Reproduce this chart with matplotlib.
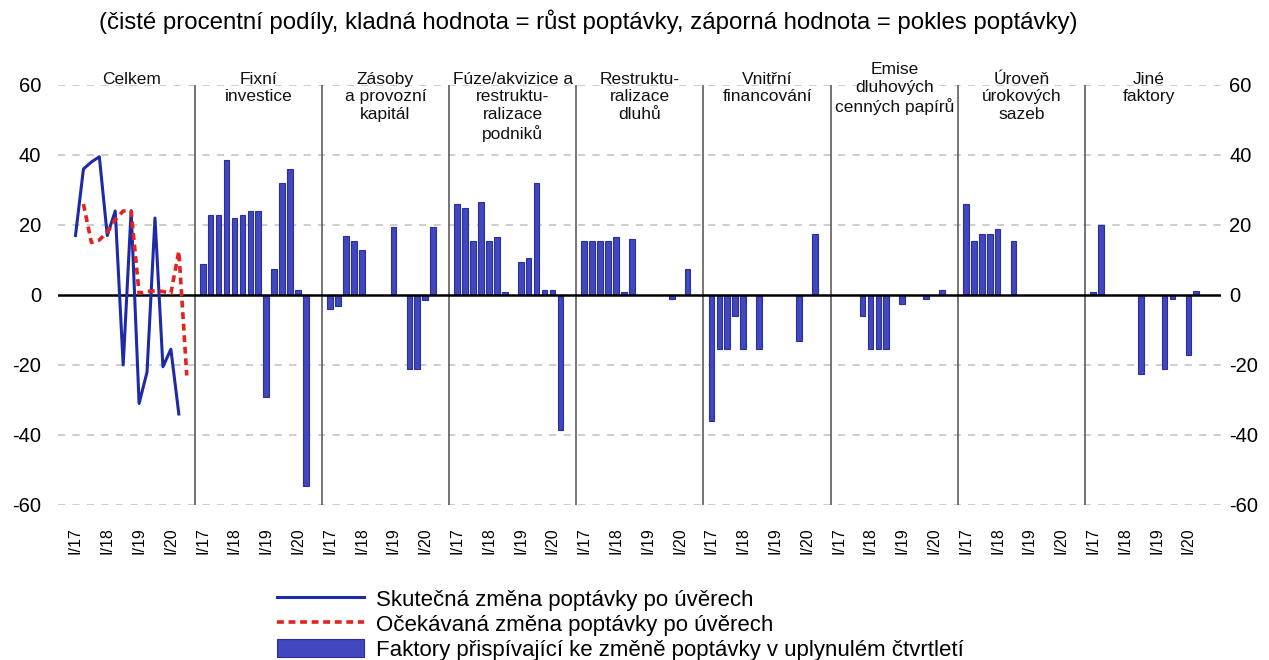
import numpy as np
import matplotlib
matplotlib.use("Agg")
import matplotlib.pyplot as plt
from matplotlib.lines import Line2D
from matplotlib.patches import Patch

plt.rcParams['font.family'] = ['Liberation Sans', 'DejaVu Sans']
plt.rcParams['axes.unicode_minus'] = False

# --- DATA ---
panel_titles = [
    "Celkem",
    "Fixní\ninvestice",
    "Zásoby\na provozní\nkapitál",
    "Fúze/akvizice a\nrestruktu-\nralizace\npodniků",
    "Restruktu-\nralizace\ndluhů",
    "Vnitřní\nfinancování",
    "Emise\ndluhových\ncenných papírů",
    "Úroveň\núrokových\nsazeb",
    "Jiné\nfaktory",
]
tick_labels = ["I/17", "I/18", "I/19", "I/20"]

# Celkem: actual (I/17 - II/20), expected (II/17 - III/20)
actual = [17, 36, 38, 39.5, 17, 24, -20, 24, -31, -22, 22, -20.5, -15.5, -34]
expected = [26, 15, 15.7, 18, 21.5, 24, 24, 0.5, 1, 1.2, 1, 0.5, 12.5, -23]

fixni = [9, 23, 23, 38.5, 22, 23, 24, 24, -29, 7.5, 32, 36, 1.5, -54.5]
zasoby = [-4, -3, 17, 15.5, 13, 0, 0, 0, 19.5, 0, -21, -21, -1.5, 19.5]
fuze = [26, 25, 15.5, 26.5, 15.5, 16.5, 0.8, 0, 9.5, 10.5, 32, 1.5, 1.5, -38.5]
dluhy = [15.5, 15.5, 15.5, 15.5, 16.5, 1, 16, 0, 0, 0, 0, -1, 0, 7.5]
vnitrni = [-36, -15.5, -15.5, -6, -15.5, 0, -15.5, 0, 0, 0, 0, -13, 0, 17.5]
emise = [0, 0, 0, -6, -15.5, -15.5, -15.5, 0, -2.5, 0, 0, -1, 0, 1.5]
uroven = [26, 15.5, 17.5, 17.5, 19, 0, 15.5, 0, 0, 0, 0, 0, 0, 0]
jine = [1, 20, 0, 0, 0, 0, -22.5, 0, 0, -21, -1, 0, -17, 1.2]

factors = [fixni, zasoby, fuze, dluhy, vnitrni, emise, uroven, jine]

SLOTS = 16  # slots per panel (14 quarters + spacing)
BLUE_BAR = "#4047BF"
BAR_EDGE = "#2B2F99"
LINE_BLUE = "#1E2AA6"
LINE_RED = "#E3231E"
Y_TICKS = list(range(-60, 61, 20))

fig = plt.figure(figsize=(12.69, 6.6), dpi=100)
ax = fig.add_axes([58 / 1269, 155 / 660, 1163 / 1269, 420 / 660])

# grid and zero line
for g in [-60, -40, -20, 20, 40, 60]:
    ax.axhline(g, color="#C9C9C9", lw=1.3, ls=(0, (4, 4)), zorder=0)
ax.axhline(0, color="black", lw=1.8, zorder=3)

# panel dividers
for p in range(1, 9):
    ax.vlines(p * SLOTS, -60, 60, color="#505050", lw=1.1, zorder=1)

# Celkem lines
x_act = 1 + np.arange(len(actual))
x_exp = 2 + np.arange(len(expected))
ax.plot(x_act, actual, color=LINE_BLUE, lw=2.2, zorder=4)
ax.plot(x_exp, expected, color=LINE_RED, lw=2.6, ls=(0, (1.9, 1.3)), zorder=4)

# factor bars
for p, vals in enumerate(factors, start=1):
    vals = np.array(vals, dtype=float)
    xs = p * SLOTS + 1 + np.arange(len(vals))
    mask = vals != 0
    ax.bar(xs[mask], vals[mask], width=0.72, color=BLUE_BAR,
           edgecolor=BAR_EDGE, linewidth=0.8, zorder=2)

# panel titles
for p, title in enumerate(panel_titles):
    ytop = 66.5 if p == 6 else 63.8
    ax.text(p * SLOTS + 8, ytop, title, ha="center", va="top",
            fontsize=12.5, linespacing=1.22, color="#111111")

ax.set_xlim(-1.2, 145.1)
ax.set_ylim(-60, 60)
ax.set_yticks(Y_TICKS)
ax.tick_params(axis="y", length=0, labelsize=14.5, pad=12)

# right-hand y labels
ax_r = ax.twinx()
ax_r.set_ylim(-60, 60)
ax_r.set_yticks(Y_TICKS)
ax_r.tick_params(axis="y", length=0, labelsize=14.5, pad=6)
for s in ax_r.spines.values():
    s.set_visible(False)

ticks = []
labels = []
for p in range(9):
    for k, lab in enumerate(tick_labels):
        ticks.append(p * SLOTS + 1 + 4 * k)
        labels.append(lab)
ax.set_xticks(ticks)
ax.set_xticklabels(labels, rotation=90, fontsize=11.5)
ax.tick_params(axis="x", length=0, pad=16)

for s in ax.spines.values():
    s.set_visible(False)

fig.text(588 / 1269, 1 - 22 / 660,
         "(čisté procentní podíly, kladná hodnota = růst poptávky, "
         "záporná hodnota = pokles poptávky)",
         ha="center", va="center", fontsize=17.3)

handles = [
    Line2D([], [], color=LINE_BLUE, lw=2.2),
    Line2D([], [], color=LINE_RED, lw=2.6, ls=(0, (1.9, 1.3))),
    Patch(facecolor=BLUE_BAR, edgecolor=BAR_EDGE, linewidth=0.8),
]
leg_labels = [
    "Skutečná změna poptávky po úvěrech",
    "Očekávaná změna poptávky po úvěrech",
    "Faktory přispívající ke změně poptávky v uplynulém čtvrtletí",
]
fig.legend(handles, leg_labels, loc="upper left",
           bbox_to_anchor=(277 / 1269, 1 - 589 / 660),
           frameon=False, borderpad=0, borderaxespad=0,
           handlelength=3.9, handleheight=0.9, handletextpad=0.55,
           labelspacing=0.14, prop={"size": 16})

fig.savefig("out.png", dpi=100)
